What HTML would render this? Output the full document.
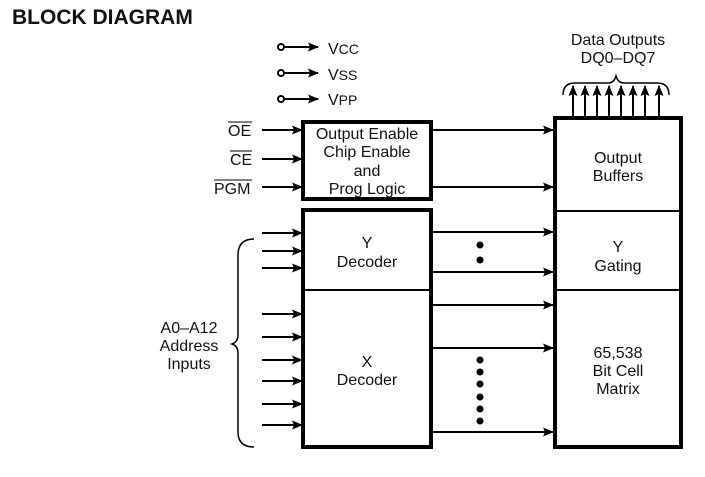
<!DOCTYPE html>
<html><head><style>
body{margin:0;background:#fff;}
svg text{font-family:"Liberation Sans",sans-serif;fill:#111;}
</style></head><body>
<svg width="705" height="472" viewBox="0 0 705 472" xmlns="http://www.w3.org/2000/svg">
<defs><marker id="a" markerWidth="11" markerHeight="9" refX="10" refY="4.5" orient="auto" markerUnits="userSpaceOnUse"><path d="M0,0 L11,4.5 L0,9 L2,4.5 z" fill="#000"/></marker></defs>
<text x="12" y="24" font-size="21" font-weight="bold">BLOCK DIAGRAM</text>
<g stroke="#000" stroke-width="2" fill="none">
<circle cx="281" cy="47" r="3"/><circle cx="281" cy="73" r="3"/><circle cx="281" cy="99" r="3"/>
<line x1="284" y1="47" x2="318" y2="47" marker-end="url(#a)"/>
<line x1="284" y1="73" x2="318" y2="73" marker-end="url(#a)"/>
<line x1="284" y1="99" x2="318" y2="99" marker-end="url(#a)"/>
<line x1="262" y1="130" x2="302" y2="130" marker-end="url(#a)"/>
<line x1="262" y1="159" x2="302" y2="159" marker-end="url(#a)"/>
<line x1="262" y1="187" x2="302" y2="187" marker-end="url(#a)"/>
<line x1="262" y1="233" x2="302" y2="233" marker-end="url(#a)"/>
<line x1="262" y1="251" x2="302" y2="251" marker-end="url(#a)"/>
<line x1="262" y1="268" x2="302" y2="268" marker-end="url(#a)"/>
<line x1="262" y1="314" x2="302" y2="314" marker-end="url(#a)"/>
<line x1="262" y1="337" x2="302" y2="337" marker-end="url(#a)"/>
<line x1="262" y1="360" x2="302" y2="360" marker-end="url(#a)"/>
<line x1="262" y1="381" x2="302" y2="381" marker-end="url(#a)"/>
<line x1="262" y1="404" x2="302" y2="404" marker-end="url(#a)"/>
<line x1="262" y1="425" x2="302" y2="425" marker-end="url(#a)"/>
<line x1="432" y1="130" x2="553" y2="130" marker-end="url(#a)"/>
<line x1="432" y1="187" x2="553" y2="187" marker-end="url(#a)"/>
<line x1="432" y1="232" x2="553" y2="232" marker-end="url(#a)"/>
<line x1="432" y1="272" x2="553" y2="272" marker-end="url(#a)"/>
<line x1="432" y1="305" x2="553" y2="305" marker-end="url(#a)"/>
<line x1="432" y1="348" x2="553" y2="348" marker-end="url(#a)"/>
<line x1="432" y1="432" x2="553" y2="432" marker-end="url(#a)"/>
<line x1="573" y1="118" x2="573" y2="86" marker-end="url(#a)"/>
<line x1="585" y1="118" x2="585" y2="86" marker-end="url(#a)"/>
<line x1="597" y1="118" x2="597" y2="86" marker-end="url(#a)"/>
<line x1="609" y1="118" x2="609" y2="86" marker-end="url(#a)"/>
<line x1="621" y1="118" x2="621" y2="86" marker-end="url(#a)"/>
<line x1="633" y1="118" x2="633" y2="86" marker-end="url(#a)"/>
<line x1="645" y1="118" x2="645" y2="86" marker-end="url(#a)"/>
<line x1="659" y1="118" x2="659" y2="86" marker-end="url(#a)"/>
<path d="M254,239 Q238,239 238,255 L238,335 Q238,342 232,344 Q238,346 238,353 L238,432 Q238,447 254,447" stroke-width="1.5"/>
<path d="M563,95 Q563,83 575,83 L608,83 Q614,83 616,76 Q618,83 624,83 L657,83 Q669,83 669,95" stroke-width="1.5"/>
</g>
<g stroke="#000" fill="none">
<rect x="303" y="122" width="128" height="77" stroke-width="4"/>
<rect x="303" y="210" width="128" height="237" stroke-width="4"/>
<line x1="303" y1="290" x2="431" y2="290" stroke-width="2"/>
<rect x="555" y="118" width="126" height="329" stroke-width="4"/>
<line x1="555" y1="211" x2="681" y2="211" stroke-width="2"/>
<line x1="555" y1="290" x2="681" y2="290" stroke-width="2"/>
</g>
<g fill="#000">
<circle cx="480" cy="245" r="3.5"/><circle cx="480" cy="260" r="3.5"/>
<circle cx="480" cy="360" r="3.5"/><circle cx="480" cy="372" r="3.5"/><circle cx="480" cy="384" r="3.5"/><circle cx="480" cy="397" r="3.5"/><circle cx="480" cy="409" r="3.5"/><circle cx="480" cy="421" r="3.5"/>
</g>
<g font-size="16">
<text x="328" y="54">V<tspan font-size="14">CC</tspan></text>
<text x="328" y="80">V<tspan font-size="14">SS</tspan></text>
<text x="328" y="105">V<tspan font-size="14">PP</tspan></text>
<text x="228" y="136">OE</text><line x1="228" y1="122" x2="252" y2="122" stroke="#000"/>
<text x="230" y="165">CE</text><line x1="230" y1="151" x2="252" y2="151" stroke="#000"/>
<text x="214" y="194">PGM</text><line x1="214" y1="180" x2="252" y2="180" stroke="#000"/>
<g text-anchor="middle">
<text x="367" y="139">Output Enable</text>
<text x="367" y="157">Chip Enable</text>
<text x="367" y="176">and</text>
<text x="367" y="194">Prog Logic</text>
<text x="367" y="248">Y</text><text x="367" y="267">Decoder</text>
<text x="367" y="367">X</text><text x="367" y="385">Decoder</text>
<text x="618" y="163">Output</text><text x="618" y="181">Buffers</text>
<text x="618" y="252">Y</text><text x="618" y="271">Gating</text>
<text x="618" y="358">65,538</text><text x="618" y="376">Bit Cell</text><text x="618" y="394">Matrix</text>
<text x="618" y="45">Data Outputs</text><text x="618" y="63">DQ0–DQ7</text>
<text x="189" y="333">A0–A12</text><text x="189" y="351">Address</text><text x="189" y="369">Inputs</text>
</g>
</g>
</svg>
</body></html>
